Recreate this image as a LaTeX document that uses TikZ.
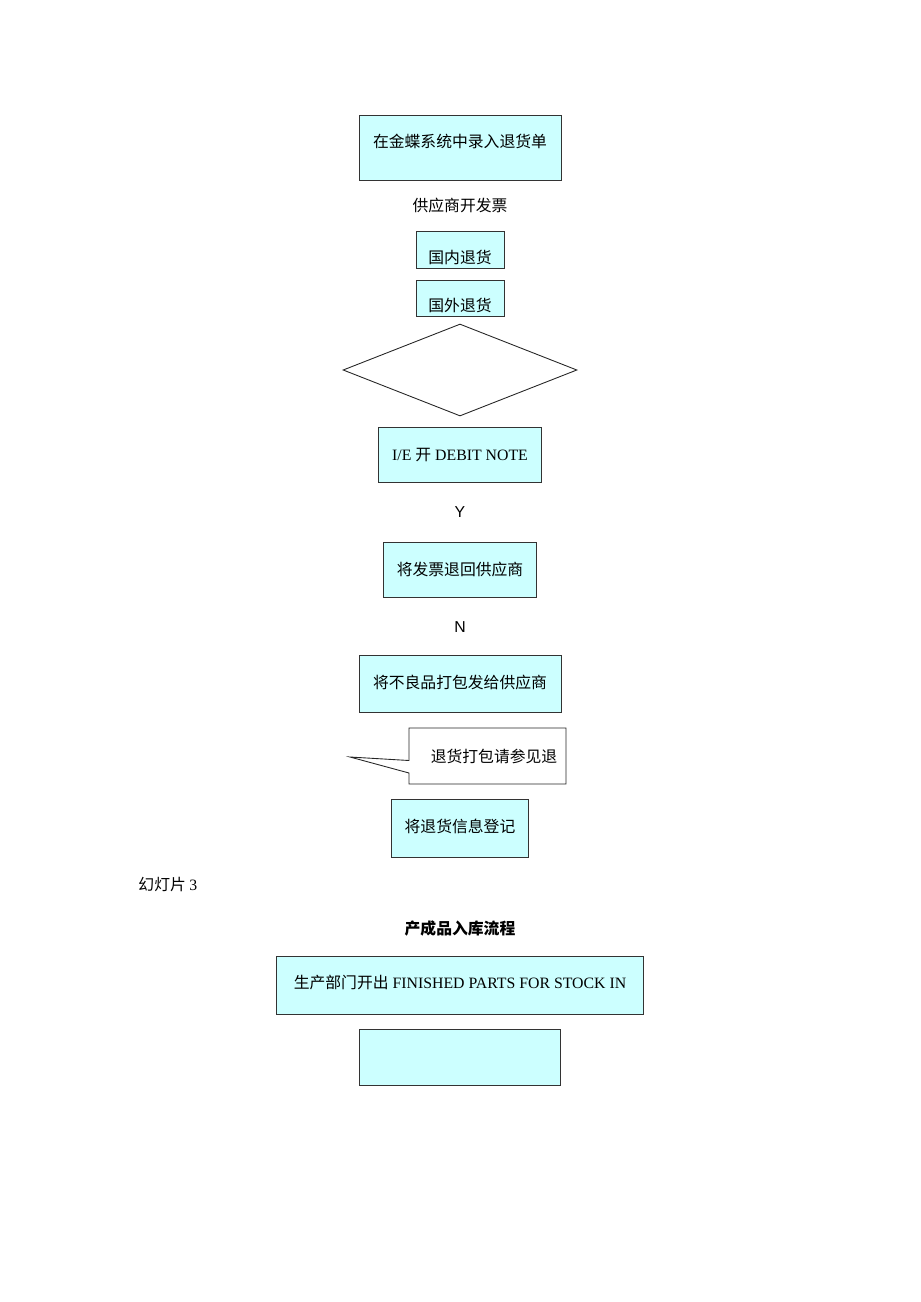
\documentclass[tikz,border=0pt]{standalone}
\usepackage{fontspec}
\setmainfont{Liberation Serif}
\setsansfont{Liberation Sans}
\newfontfamily\cjk{Noto Sans CJK SC}
\usetikzlibrary{shapes.geometric,positioning}
\definecolor{boxcyan}{HTML}{CCFFFF}
\tikzset{
  flowbox/.style={draw=black!80, fill=boxcyan, line width=0.45pt, inner sep=0pt},
  txt/.style={font=\fontsize{9}{11}\selectfont, inner sep=0pt},
}
\begin{document}
\begin{tikzpicture}[x=0.02cm,y=-0.02cm,line width=0.5pt]
\useasboundingbox (0,0) rectangle (920,1302);

% return of goods
\node[flowbox,minimum width=4.04cm,minimum height=1.30cm] (b1) at (460,147.5) {};
\node[txt] (b1t) at (460,141) {\cjk 在金蝶系统中录入退货单};
\node[txt] (inv) at (460,205) {\cjk 供应商开发票};
\node[flowbox,minimum width=1.76cm,minimum height=0.74cm] (b2) at (460,249.5) {};
\node[txt] (b2t) at (460,257) {\cjk 国内退货};
\node[flowbox,minimum width=1.76cm,minimum height=0.72cm] (b3) at (460,298) {};
\node[txt] (b3t) at (460,305) {\cjk 国外退货};
\node[draw=black!85,fill=white,diamond,aspect=2.54,inner sep=0pt,
  minimum width=4.68cm,minimum height=1.84cm] (d1) at (460,370) {};
\node[flowbox,minimum width=3.26cm,minimum height=1.10cm] (b4) at (459.5,454.5) {};
\node[txt] (b4t) at (460,455) {I/E {\cjk 开} DEBIT NOTE};
\node[txt,font=\sffamily\fontsize{9}{11}\selectfont] (yes) at (460,512) {Y};
\node[flowbox,minimum width=3.06cm,minimum height=1.10cm] (b5) at (459.5,569.5) {};
\node[txt] (b5t) at (460,569) {\cjk 将发票退回供应商};
\node[txt,font=\sffamily\fontsize{9}{11}\selectfont] (no) at (460,627) {N};
\node[flowbox,minimum width=4.04cm,minimum height=1.14cm] (b6) at (460,683.5) {};
\node[txt] (b6t) at (460,682) {\cjk 将不良品打包发给供应商};

% callout
\draw[draw=black!85,fill=white] (409,760.5) -- (409,728) -- (566,728) -- (566,784)
  -- (409,784) -- (409,773) -- (350,757) -- cycle;
\node[txt] (note) at (494,756) {\cjk 退货打包请参见退};

\node[flowbox,minimum width=2.74cm,minimum height=1.16cm] (b7) at (459.5,828) {};
\node[txt] (b7t) at (460,826) {\cjk 将退货信息登记};

% slide 3
\node[txt,anchor=west] (slide) at (138,885) {\cjk 幻灯片 \rmfamily 3};
\node[txt] (title) at (460,928) {\cjk\bfseries 产成品入库流程};
\node[flowbox,minimum width=7.34cm,minimum height=1.16cm] (b8) at (459.5,985) {};
\node[txt] (b8t) at (460,983) {{\cjk 生产部门开出} FINISHED PARTS FOR STOCK IN};
\node[flowbox,minimum width=4.02cm,minimum height=1.12cm] (b9) at (459.5,1057) {};
\end{tikzpicture}
\end{document}
